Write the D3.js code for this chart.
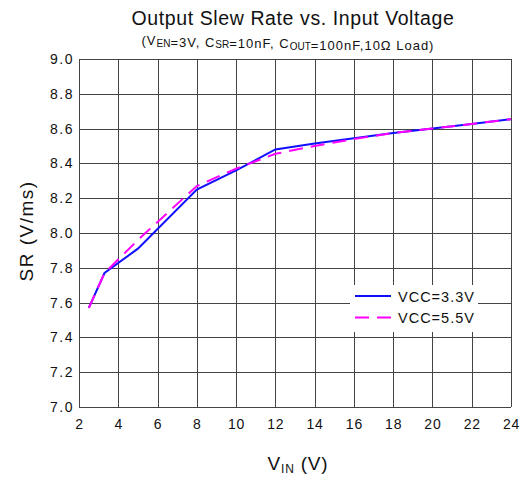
<!DOCTYPE html>
<html>
<head>
<meta charset="utf-8">
<script src="https://cdn.jsdelivr.net/npm/d3@7"></script>
<style>
  body { margin: 0; background: #fff; }
  text { font-family: "Liberation Sans", Arial, sans-serif; fill: #111; }
</style>
</head>
<body>
<script>
const xTicks = [2, 4, 6, 8, 10, 12, 14, 16, 18, 20, 22, 24];
const yTicks = [7.0, 7.2, 7.4, 7.6, 7.8, 8.0, 8.2, 8.4, 8.6, 8.8, 9.0];

const vin33 = [2.5, 3.3, 5, 8, 10, 12, 14, 16, 18, 20, 22, 24];
const sr33 = [7.57, 7.77, 7.91, 8.25, 8.36, 8.48, 8.515, 8.545, 8.575, 8.60, 8.627, 8.654];

const vin55 = [2.5, 3.3, 5, 8, 10, 12, 14, 16, 18, 20, 22, 24];
const sr55 = [7.57, 7.77, 7.96, 8.27, 8.37, 8.455, 8.50, 8.54, 8.575, 8.60, 8.627, 8.654];

const series = [
  { name: 'VCC=3.3V', color: '#1010ff', dash: null, x: vin33, y: sr33 },
  { name: 'VCC=5.5V', color: '#ff00ff', dash: '14,8', x: vin55, y: sr55 }
];

const width = 529, height = 481;
const margin = { left: 79, right: 18, top: 59, bottom: 74 };

const svg = d3.select('body').append('svg')
  .attr('width', width)
  .attr('height', height);

const x = d3.scaleLinear().domain([2, 24]).range([margin.left, width - margin.right]);
const y = d3.scaleLinear().domain([7, 9]).range([height - margin.bottom, margin.top]);

// grid
const grid = svg.append('g').attr('stroke', '#444').attr('stroke-width', 1);
grid.selectAll('.gx').data(xTicks).join('line')
  .attr('x1', d => Math.round(x(d)) + 0.5).attr('x2', d => Math.round(x(d)) + 0.5)
  .attr('y1', y(7)).attr('y2', y(9));
grid.selectAll('.gy').data(yTicks).join('line')
  .attr('y1', d => Math.round(y(d)) + 0.5).attr('y2', d => Math.round(y(d)) + 0.5)
  .attr('x1', x(2)).attr('x2', x(24));

// tick labels
svg.append('g').selectAll('text').data(xTicks).join('text')
  .attr('x', d => x(d) + 0.5).attr('y', 429)
  .attr('text-anchor', 'middle').attr('font-size', 14).attr('letter-spacing', 0.8)
  .text(d => d);
svg.append('g').selectAll('text').data(yTicks).join('text')
  .attr('x', x(2) - 5).attr('y', d => y(d) + 5)
  .attr('text-anchor', 'end').attr('font-size', 14).attr('letter-spacing', 1.5)
  .text(d => d.toFixed(1));

// lines
const line = d3.line().x(d => x(d[0])).y(d => y(d[1]));
series.forEach(s => {
  svg.append('path')
    .datum(s.x.map((v, i) => [v, s.y[i]]))
    .attr('fill', 'none')
    .attr('stroke', s.color)
    .attr('stroke-width', 2)
    .attr('stroke-dasharray', s.dash)
    .attr('d', line);
});

// legend
const lg = svg.append('g');
lg.append('rect').attr('x', 350).attr('y', 285).attr('width', 128).attr('height', 47).attr('fill', '#fff');
series.forEach((s, i) => {
  const yy = 296 + i * 21.5;
  lg.append('line')
    .attr('x1', 355).attr('x2', 391).attr('y1', yy).attr('y2', yy)
    .attr('stroke', s.color).attr('stroke-width', 2)
    .attr('stroke-dasharray', s.dash);
  lg.append('text').attr('x', 398).attr('y', yy + 5.5)
    .attr('font-size', 14.5).attr('letter-spacing', 1).text(s.name);
});

// titles
svg.append('text').attr('x', 293).attr('y', 25)
  .attr('text-anchor', 'middle').attr('font-size', 19.5).attr('letter-spacing', 0.6)
  .text('Output Slew Rate vs. Input Voltage');

const sub = svg.append('text').attr('x', 288).attr('y', 45)
  .attr('text-anchor', 'middle').attr('font-size', 13).attr('letter-spacing', 1);
const parts = [
  ['(V', 0], ['EN', 1], ['=3V, C', 0], ['SR', 1], ['=10nF, C', 0], ['OUT', 1], ['=100nF,10Ω Load)', 0]
];
parts.forEach(p => {
  sub.append('tspan')
    .attr('font-size', p[1] ? 10 : 13)
    .attr('letter-spacing', p[1] ? 0 : 1)
    .attr('dy', p[1] ? 1.5 : null)
    .text(p[0]);
  if (p[1]) sub.append('tspan').attr('dy', -1.5).text('');
});

const xt = svg.append('text').attr('x', 298).attr('y', 470)
  .attr('text-anchor', 'middle').attr('font-size', 19).attr('letter-spacing', 0.8);
xt.append('tspan').text('V');
xt.append('tspan').attr('font-size', 12).attr('dy', 3).text('IN');
xt.append('tspan').attr('dy', -3).text(' (V)');

svg.append('text')
  .attr('transform', `translate(33,${(y(7) + y(9)) / 2 - 2}) rotate(-90)`)
  .attr('text-anchor', 'middle').attr('font-size', 19).attr('letter-spacing', 1.5)
  .text('SR (V/ms)');
</script>
</body>
</html>
